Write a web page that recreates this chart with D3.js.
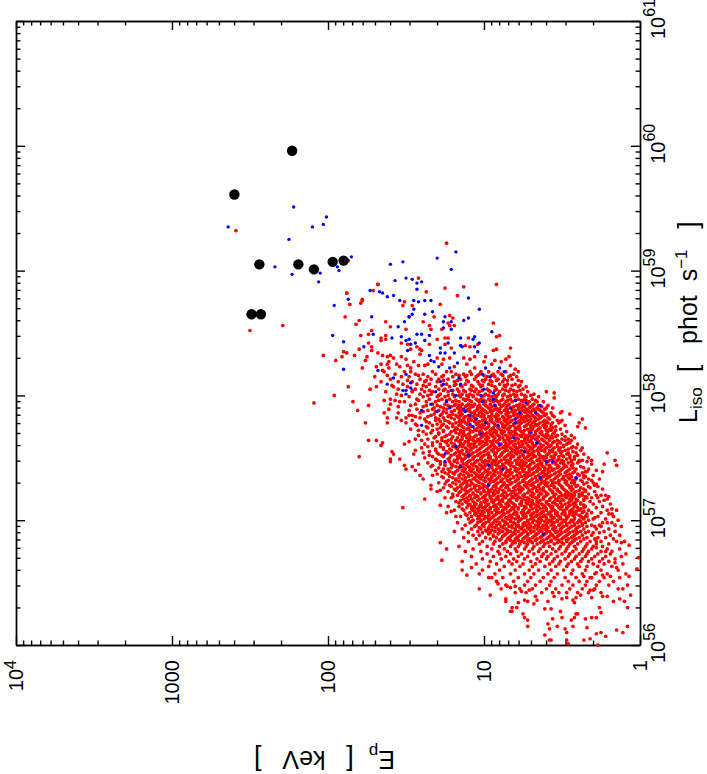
<!DOCTYPE html>
<html>
<head>
<meta charset="utf-8">
<script src="https://cdnjs.cloudflare.com/ajax/libs/d3/7.8.5/d3.min.js"></script>
<style>
html, body { margin: 0; padding: 0; background: #fff; }
svg { display: block; }
text { font-family: "Liberation Sans", Arial, sans-serif; fill: #000; white-space: pre; }
</style>
</head>
<body>
<script>
// values as [log10 Ep, log10 Liso]
var blackPoints = [[2.23,59.96],[2.60,59.61],[2.44,59.05],[2.19,59.05],[2.09,59.01],[1.97,59.07],[1.90,59.08],[2.49,58.65],[2.43,58.65]];

var bluePoints = [[2.22,59.51],[2.01,59.43],[2.03,59.37],[2.10,59.35],[2.64,59.35],[2.25,59.25],[1.85,59.11],[2.34,59.03],[1.94,59.03],[1.93,59.00],[2.23,58.97],[2.05,58.98],[2.06,58.91],[1.73,58.84],[1.67,58.83],[1.87,58.77],
[1.60,59.05],[1.52,59.07],[1.30,59.10],[1.18,59.15],[1.21,59.01],[1.57,58.92],[1.50,58.94],[1.46,58.93],[1.43,58.90],[1.40,58.91],[1.43,58.85],[1.65,58.82],[1.62,58.79],[1.58,58.80],[1.54,58.76],[1.45,58.76],[1.42,58.75],[1.38,58.76],[1.34,58.76],[1.96,58.72],[1.45,58.69],[1.46,58.65],[1.48,58.63],[1.51,58.59],[1.55,58.55],[1.38,58.65],[1.33,58.67],[1.72,58.63],[1.25,58.63],[1.26,58.59],[1.21,58.59],[1.26,58.54],[1.21,58.53],[1.13,58.60],[1.10,58.62],[1.03,58.69],[1.10,58.78],[1.71,58.49],[1.97,58.48],[1.90,58.43],[1.59,58.46],[1.53,58.47],[1.50,58.44],[1.48,58.45],[1.43,58.49],[1.40,58.49],[1.35,58.48],[1.47,58.41],[1.44,58.42],[1.38,58.44],[1.23,58.42],[1.15,58.46],[1.07,58.45],[1.06,58.47],[.95,58.51],[1.77,58.39],[1.49,58.36],[1.28,58.38],[1.15,58.40],[1.14,58.39],[1.06,58.39],[1.03,58.42],[1.28,58.34],[1.25,58.34],[1.19,58.34],[1.04,58.35],[1.35,58.32],[1.34,58.28],[1.32,58.27],[1.29,58.23],[1.17,58.26],[1.22,58.22],[1.90,58.21],[1.68,58.20],[1.50,58.17],[1.58,58.14],[1.62,58.09],[1.47,58.10],[1.28,58.11],[1.26,58.09],[1.16,58.14],[1.15,58.09],[.96,58.15],[1.01,58.17],[.99,58.22],[.90,58.22],[.87,58.19],[.94,58.02],[1.00,58.05],[1.02,58.00],[1.52,58.04],[1.50,58.04],[1.50,58.01],[1.31,58.03],[1.21,58.04],[1.18,58.00],[1.47,58.06],
[1.01,57.95],[.94,57.97],[.93,57.92],[1.34,57.93],[1.24,57.95],[1.22,57.90],[1.40,57.88],[1.30,57.87],[1.13,57.89],[1.12,57.87],[1.09,57.84],[1.05,57.81],[1.09,57.77],[1.07,57.75],[.99,57.78],[.91,57.76],[1.40,57.76],[1.02,57.69],[.90,57.61],[1.18,57.59],[1.25,57.53],[1.10,57.52],[1.25,57.47],[1.15,57.43],[.97,57.44],[.97,57.28],
[.80,57.96],[.73,57.94],[.64,57.92],[.83,57.90],[.77,57.86],[.67,57.86],[.80,57.81],[.80,57.78],[.81,57.66],[.70,57.70],[.66,57.62],[.74,57.55],[.60,57.47],[.56,57.47],[.88,57.41],[.64,57.34],[.41,57.34],[.62,56.89]];

// isolated red points
var redSparse = [[2.59,59.32],[2.29,58.56],[2.50,58.52],[2.09,57.94],[1.87,59.08],[1.88,58.82],[1.71,58.84],[1.68,58.89],[1.78,58.77],[1.24,59.22],[1.37,58.83],[1.42,58.94],[1.25,58.86],[1.13,58.87],[.92,58.89],[1.17,58.80],[1.28,58.73],[1.68,58.89],[1.88,58.82],[1.78,58.76],[1.79,58.74],[1.86,58.73],
[1.51,58.75],[1.52,58.72],[1.46,58.72],[1.89,58.63],[1.80,58.60],[1.82,58.57],[1.63,58.59],[1.60,58.55],[1.72,58.52],[1.50,58.53],[1.48,58.63],[1.39,58.59],[1.32,58.63],[1.35,58.56],[1.34,58.53],[1.22,58.64],[1.20,58.62],[1.23,58.58],[1.22,58.56],[1.27,58.53],[1.19,58.56],[.94,58.58],[.92,58.47],[.90,58.48],
[1.79,58.48],[1.74,58.49],[1.63,58.48],[1.66,58.46],[1.66,58.44],[1.63,58.45],[1.74,58.42],[1.72,58.39],[1.80,58.37],[1.90,58.35],[1.88,58.34],[1.91,58.31],[2.03,58.32],[1.95,58.28],[1.83,58.32],[1.75,58.31],[1.76,58.28],[1.78,58.22],[1.72,58.36],[1.68,58.34],[1.65,58.32],[1.62,58.31],[1.60,58.32],[1.53,58.42],[1.49,58.41],[1.47,58.37],[1.43,58.39],[1.41,58.37],[1.40,58.36],[1.41,58.33],[1.35,58.41],[1.30,58.45],[1.25,58.46],[1.23,58.46],[1.25,58.41],[1.21,58.38],[1.10,58.46],[1.12,58.40],[1.09,58.39],[1.04,58.41],[.94,58.36],[.92,58.37],[.83,58.38],[.99,58.31],[.84,58.31],[.86,58.29],[.89,58.27],
[1.87,58.07],[1.96,58.00],[1.73,58.05],[1.58,58.30],[1.53,58.31],[1.50,58.29],[1.45,58.27],[1.61,58.27],[1.66,58.25],[1.62,58.25],[1.69,58.23],[1.65,58.20],[1.61,58.22],[1.56,58.25],[1.54,58.23],[1.49,58.24],[1.42,58.24],[1.38,58.24],[1.36,58.25],[1.30,58.30],[1.26,58.29],[1.22,58.30],[1.13,58.30],[1.09,58.29],[1.06,58.31],[1.00,58.27],[.95,58.25],[1.47,58.22],[1.27,58.25],[1.19,58.23],[1.11,58.25],[1.06,58.22],[.93,58.28],[.83,58.24],[.80,58.21],[.78,58.19],
[1.84,57.95],[1.74,57.92],[1.81,57.88],[1.64,57.96],[1.60,57.93],[1.61,57.89],[1.64,57.86],[1.62,57.82],[1.62,57.78],[1.76,57.78],[1.56,57.82],[1.55,57.86],[1.53,57.80],[1.50,57.82],[1.50,57.78],[1.48,57.84],[1.47,57.92],[1.57,57.96],[1.54,57.95],[1.74,57.64],[1.69,57.64],[1.65,57.62],[1.66,57.60],[1.51,57.61],[1.44,57.65],[1.80,57.51],[1.59,57.55],[1.58,57.53],[1.60,57.49],[1.60,57.47],[1.54,57.49],[1.51,57.44],[1.50,57.41],[1.46,57.43],[1.44,57.40],[1.42,57.45],[1.44,57.56],[1.41,57.36],[1.38,57.17],[1.52,57.10],[1.39,57.33],[1.34,57.28],[1.34,57.25],[1.30,57.23],[1.28,57.24],[1.25,57.18],[1.28,57.12],[1.23,57.11],[1.24,57.06],[1.21,57.07],[1.18,57.03],
[.21,57.54],[.16,57.48],[.15,57.44],[.23,57.45],[.24,57.39],[.31,57.48],[.34,57.47],[.37,57.81],[.39,57.78],[.40,57.75],[.35,57.74],[.45,57.85],[.50,57.87],[.51,57.86],[.59,57.92],[.56,57.90],[.55,58.02],[.60,58.03],[.55,57.98],[.50,57.80],[.52,57.78],[.48,57.76],[.54,57.75],[.42,57.66],[.44,57.64],[.45,57.62],[.41,57.58],[.37,57.58],[.41,57.54],[.39,57.48],[.34,57.39],[.36,57.36],[.31,57.32],[.30,57.30],[.28,57.29],[.27,57.27],[.25,57.20],[.20,57.19],[.21,57.17],[.28,57.20],[.31,57.18],[.18,57.09],[.15,57.08],[.18,57.05],[.29,57.02],[.34,57.03],
[.72,56.15],[.59,56.17],[.58,56.13],[.53,56.15],[.48,56.13],[.47,56.10],[.43,56.15],[.34,56.14],[.28,56.09],[.25,56.10],[.22,56.07],[.15,56.12],[.11,56.10],[.08,56.15],[.61,56.08],[.58,56.04],[.57,56.04],[.47,56.04],[.46,56.01],[.36,56.04],[.32,56.05],[.27,56.00],
[.82,56.30],[.83,56.27],[.82,56.27],[.79,56.30],[.75,56.25],[.74,56.22],[.72,56.20],[.61,56.29],[.57,56.29],[.51,56.27],[.56,56.21],[.50,56.22],[.44,56.20],[.42,56.22],[.41,56.25],[.40,56.25],[.35,56.21],[.31,56.22],[.28,56.22],[.26,56.30],[.25,56.26],[.08,56.30],
[1.03,56.45],[.96,56.40],[.86,56.37],[.86,56.35],[.78,56.34],[.74,56.36],[.72,56.35],[.67,56.39],[.66,56.36],[.68,56.33],[.59,56.35],[.55,56.39],[.50,56.37],[.47,56.38],[.43,56.36],[.42,56.34],[.41,56.38],[.38,56.40],[.52,56.42],[.32,56.44],[.30,56.44],[.31,56.38],[.24,56.39],[.21,56.39],[.17,56.35],[.13,56.37],[.10,56.35],[.06,56.40],[.14,56.45],
[1.14,56.60],[1.11,56.56],[1.03,56.57],[.97,56.54],[.95,56.54],[.91,56.49],[.85,56.47],[.83,56.46],[.80,56.47],[.76,56.43],[.71,56.44],[1.08,56.62],[1.27,56.68],[1.24,56.77],[1.28,56.82],
[.01,56.70],[.02,56.61],[.07,56.80],[.12,56.82],[.07,56.55],[.08,56.48],[.16,56.66],[.15,56.62],[.18,56.75],[.22,56.75],[.28,56.78],[.21,56.98],[.16,56.96],[.17,57.03],[.25,56.95],[.28,56.83],[.19,56.55],[.24,56.56],[.28,56.58],[.32,56.54],[.36,56.55]];

// the dense part of the cloud: [log10 Liso, then the log10 Ep values along that row]
var redRows = [
[58.19,1.64,1.51,1.47,1.33,1.24,1.21,1.09,1.02,.97,.91,.86],
[58.17,1.57,1.44,1.39,1.31,1.18,1.13,1.08,1.03,.94,.89,.81],
[58.15,1.70,1.53,1.48,1.36,1.27,1.20,1.12,1.05,.98,.93,.84,.79],
[58.13,1.60,1.41,1.34,1.29,1.23,1.15,1.06,.99,.91,.87,.82],
[58.11,1.66,1.55,1.46,1.38,1.30,1.19,1.10,1.04,1.00,.95,.88,.76],
[58.09,1.52,1.43,1.35,1.24,1.18,1.12,1.03,.97,.90,.85,.80],
[58.07,1.69,1.58,1.49,1.37,1.31,1.22,1.14,1.07,1.02,.93,.86,.78,.73],
[58.05,1.55,1.44,1.40,1.29,1.25,1.17,1.09,1.05,.98,.92,.88,.83,.75],
[58.03,1.63,1.46,1.38,1.33,1.23,1.16,1.12,1.06,1.03,.96,.90,.84,.79,.72],
[58.01,1.56,1.41,1.34,1.28,1.20,1.14,1.09,1.04,.99,.91,.87,.81,.76,.68],
[57.99,1.48,1.39,1.30,1.25,1.19,1.15,1.10,1.07,1.01,.95,.92,.85,.80,.73,.65],
[57.97,1.60,1.43,1.35,1.27,1.22,1.13,1.11,1.05,1.02,.97,.93,.88,.83,.78,.74,.69],
[57.95,1.51,1.37,1.31,1.20,1.16,1.08,1.03,.99,.94,.91,.86,.82,.75,.71,.66,.62],
[57.93,1.44,1.33,1.25,1.18,1.14,1.10,1.06,1.00,.96,.90,.87,.84,.77,.72,.68],
[57.91,1.55,1.39,1.28,1.21,1.15,1.12,1.07,1.04,.98,.95,.89,.81,.78,.74,.70,.63],
[57.90,1.32,1.26,1.17,1.09,1.02,.97,.92,.86,.83,.76,.71,.66,.60],
[57.88,1.48,1.36,1.29,1.19,1.13,1.11,1.05,1.00,.94,.91,.87,.80,.75,.72,.69,.64],
[57.86,1.41,1.24,1.16,1.08,1.03,.98,.95,.89,.84,.81,.73,.70,.62,.57],
[57.85,1.32,1.27,1.20,1.14,1.06,1.01,.92,.86,.79,.76,.66,.60],
[57.83,1.44,1.36,1.23,1.17,1.12,1.07,1.02,.97,.93,.88,.83,.78,.74,.71,.68,.63,.55],
[57.81,1.38,1.29,1.19,1.10,1.05,.99,.95,.90,.85,.80,.75,.70,.65,.58],
[57.80,1.46,1.31,1.25,1.15,1.13,1.08,1.01,.96,.92,.87,.82,.77,.72,.67,.61,.53],
[57.78,1.35,1.22,1.18,1.12,1.04,.98,.94,.89,.84,.79,.76,.69,.64,.59,.56],
[57.76,1.43,1.33,1.27,1.16,1.09,1.03,1.00,.93,.86,.81,.73,.70,.66,.62],
[57.75,1.37,1.24,1.20,1.14,1.08,1.02,.97,.91,.88,.83,.78,.74,.68,.60,.57],
[57.73,1.47,1.30,1.17,1.11,1.06,.99,.95,.90,.85,.79,.72,.69,.65,.58,.51],
[57.71,1.39,1.26,1.21,1.13,1.07,1.03,.96,.92,.87,.82,.76,.71,.67,.63,.59,.47],
[57.70,1.34,1.29,1.18,1.15,1.09,1.01,.98,.94,.89,.84,.80,.75,.70,.64,.55],
[57.68,1.42,1.24,1.12,1.05,1.00,.95,.91,.86,.81,.77,.73,.68,.62,.59,.53,.44],
[57.66,1.32,1.27,1.17,1.11,1.07,1.02,.97,.93,.88,.83,.79,.74,.69,.66,.60,.56],
[57.65,1.36,1.21,1.14,1.09,1.04,.99,.90,.85,.78,.72,.67,.63,.58,.50,.46],
[57.63,1.48,1.30,1.25,1.16,1.12,1.05,1.01,.96,.92,.87,.82,.76,.71,.65,.61,.55,.52],
[57.61,1.38,1.28,1.19,1.13,1.08,1.03,.98,.94,.89,.84,.80,.75,.69,.64,.59,.53,.47,.40],
[57.60,1.33,1.23,1.15,1.10,1.06,1.00,.95,.90,.86,.81,.77,.72,.67,.62,.57,.49],
[57.58,1.40,1.26,1.18,1.12,1.07,1.02,.97,.92,.88,.83,.78,.74,.70,.65,.60,.55,.51,.44],
[57.56,1.31,1.21,1.14,1.09,1.04,.99,.95,.91,.85,.80,.76,.71,.66,.63,.58,.52,.48,.38],
[57.55,1.35,1.24,1.16,1.11,1.05,1.00,.94,.87,.82,.78,.73,.68,.61,.56,.50,.43],
[57.53,1.45,1.29,1.19,1.13,1.08,1.03,.98,.93,.89,.84,.79,.75,.70,.65,.59,.54,.47,.36],
[57.51,1.33,1.26,1.17,1.10,1.06,1.01,.96,.90,.86,.81,.77,.72,.67,.62,.57,.52,.49,.42],
[57.50,1.38,1.22,1.15,1.12,1.07,1.02,.97,.92,.87,.83,.78,.74,.69,.64,.60,.55,.45,.33],
[57.48,1.30,1.19,1.14,1.09,1.04,.99,.94,.89,.85,.80,.76,.71,.66,.61,.58,.53,.50,.44,.37],
[57.46,1.36,1.25,1.17,1.11,1.06,1.00,.95,.91,.86,.82,.77,.73,.68,.63,.56,.51,.46,.40],
[57.45,1.28,1.21,1.13,1.08,1.03,.98,.93,.88,.84,.79,.75,.70,.65,.60,.54,.49,.43,.31],
[57.43,1.34,1.18,1.15,1.10,1.05,1.01,.96,.90,.87,.81,.76,.72,.67,.62,.58,.52,.47,.38],
[57.41,1.26,1.23,1.12,1.07,1.02,.97,.92,.88,.83,.78,.74,.69,.64,.59,.55,.50,.45,.41,.33],
[57.40,1.31,1.17,1.14,1.09,1.04,.99,.94,.89,.85,.80,.75,.71,.66,.61,.56,.51,.46,.28],
[57.38,1.25,1.20,1.11,1.06,1.00,.96,.91,.86,.82,.77,.73,.68,.63,.59,.54,.48,.43,.37],
[57.36,1.33,1.16,1.13,1.08,1.03,.98,.93,.87,.84,.79,.74,.70,.65,.60,.57,.52,.47,.39,.30],
[57.35,1.27,1.22,1.10,1.05,1.01,.95,.90,.85,.81,.76,.72,.67,.62,.58,.53,.49,.44,.35],
[57.33,1.18,1.14,1.07,1.02,.97,.92,.88,.83,.78,.74,.69,.64,.60,.55,.50,.45,.41,.33,.26],
[57.31,1.24,1.16,1.11,1.04,.99,.94,.89,.84,.80,.75,.71,.66,.61,.56,.52,.47,.42,.37],
[57.30,1.29,1.20,1.13,1.08,1.03,.96,.91,.87,.82,.77,.73,.68,.63,.59,.54,.48,.44,.34],
[57.28,1.22,1.15,1.09,1.05,1.00,.93,.88,.85,.79,.74,.70,.65,.60,.57,.51,.46,.40,.29],
[57.26,1.26,1.17,1.12,1.06,1.01,.98,.92,.86,.81,.76,.72,.67,.62,.55,.50,.45,.38,.32],
[57.25,1.19,1.14,1.08,1.03,.95,.90,.84,.78,.75,.69,.64,.58,.53,.49,.43,.36,.24],
[57.23,1.23,1.15,1.10,1.04,1.00,.96,.91,.87,.82,.77,.71,.66,.61,.56,.52,.47,.41,.35,.29],
[57.21,1.20,1.12,1.07,1.02,.97,.93,.88,.83,.79,.74,.68,.63,.59,.54,.48,.44,.39,.33],
[57.20,1.17,1.13,1.09,1.05,.99,.94,.89,.85,.80,.75,.70,.65,.60,.55,.50,.46,.42,.37,.22],
[57.18,1.21,1.11,1.06,1.01,.96,.92,.86,.81,.77,.72,.67,.62,.57,.52,.47,.43,.34,.27],
[57.16,1.15,1.10,1.04,.98,.93,.90,.84,.79,.73,.69,.64,.58,.53,.49,.44,.40,.36,.23],
[57.15,1.18,1.12,1.07,1.00,.95,.88,.83,.76,.71,.66,.60,.55,.51,.45,.41,.32,.26],
[57.13,1.14,1.09,1.05,1.02,.97,.91,.86,.81,.77,.72,.68,.63,.59,.54,.48,.43,.38,.30,.19],
[57.11,1.16,1.08,1.03,.99,.94,.89,.85,.80,.74,.70,.65,.61,.56,.50,.46,.42,.35,.24],
[57.10,1.11,1.06,1.01,.96,.92,.87,.82,.78,.73,.67,.62,.57,.52,.47,.40,.36,.28],
[57.08,1.19,1.13,1.07,1.03,.98,.93,.88,.83,.75,.71,.66,.60,.55,.49,.44,.39,.33,.21],
[57.06,1.09,1.04,1.00,.95,.90,.85,.79,.76,.72,.68,.63,.58,.53,.48,.43,.37,.31,.25],
[57.05,1.12,1.06,1.02,.97,.92,.87,.81,.74,.69,.64,.59,.54,.50,.45,.41,.34,.20],
[57.03,1.15,1.08,1.03,.99,.94,.89,.84,.78,.73,.67,.62,.57,.52,.46,.38,.35,.27],
[57.01,1.10,1.04,1.00,.96,.91,.85,.80,.76,.70,.65,.60,.56,.51,.47,.42,.36,.30,.22],
[57.00,1.07,1.02,.97,.93,.88,.83,.77,.72,.68,.63,.58,.53,.49,.44,.39,.33,.14],
[56.98,1.17,1.09,1.04,.99,.94,.90,.86,.81,.74,.69,.64,.59,.55,.50,.45,.40,.35,.24,.18],
[56.96,1.12,1.05,1.01,.96,.92,.87,.82,.78,.73,.67,.62,.57,.52,.47,.42,.37,.31,.26],
[56.95,1.06,1.00,.95,.89,.84,.79,.75,.70,.65,.60,.55,.49,.44,.39,.34,.29,.12],
[56.93,1.14,1.08,1.02,.97,.91,.86,.80,.76,.71,.66,.61,.56,.51,.46,.41,.36,.28,.20],
[56.91,1.19,1.04,.98,.93,.88,.83,.78,.73,.68,.63,.58,.53,.48,.43,.38,.33,.23,.16],
[56.90,1.10,1.01,.96,.90,.85,.81,.75,.70,.65,.60,.54,.50,.45,.40,.35,.30,.26],
[56.88,1.07,1.03,.94,.87,.82,.77,.72,.67,.62,.56,.52,.47,.42,.37,.31,.19,.13],
[56.86,1.13,.99,.92,.84,.79,.74,.69,.64,.59,.55,.49,.44,.39,.34,.27,.22],
[56.85,1.05,.96,.89,.85,.80,.75,.71,.66,.60,.54,.50,.46,.41,.36,.29,.17],
[56.83,1.10,1.01,.93,.86,.81,.76,.70,.63,.57,.52,.47,.43,.38,.32,.25,.15,.10],
[56.81,1.03,.94,.88,.82,.77,.72,.66,.61,.55,.49,.45,.40,.34,.28,.20],
[56.79,1.16,.98,.90,.83,.78,.73,.68,.62,.58,.51,.46,.42,.35,.30,.24],
[56.77,1.07,.95,.87,.80,.74,.69,.64,.56,.52,.47,.41,.36,.31,.21,.13],
[56.75,1.12,1.02,.91,.85,.79,.71,.65,.60,.54,.48,.43,.37,.33,.25],
[56.73,.98,.90,.83,.76,.68,.62,.57,.50,.45,.39,.34,.27,.19,.09],
[56.71,1.08,.94,.86,.78,.72,.63,.59,.53,.46,.41,.35,.29,.22,.12],
[56.69,1.01,.89,.81,.74,.66,.60,.55,.48,.42,.37,.31,.24,.16],
[56.67,1.14,.96,.84,.79,.70,.64,.56,.51,.44,.38,.33,.26,.20],
[56.65,1.05,.92,.82,.75,.67,.58,.52,.46,.40,.30,.23,.11],
[56.63,.97,.87,.77,.69,.61,.54,.47,.39,.34,.27,.18],
[56.60,1.01,.90,.80,.71,.65,.57,.49,.43,.35,.25,.14],
[56.57,.93,.83,.74,.68,.59,.53,.44,.37,.29,.21,.09],
[56.54,.88,.78,.70,.62,.55,.48,.41,.31,.23,.13],
[56.51,.92,.81,.72,.64,.57,.46,.39,.34,.26,.17],
[56.48,.86,.74,.67,.58,.50,.43,.35,.28,.20],
[56.45,.89,.77,.69,.60,.54,.45,.37,.29,.11],
[56.42,.80,.73,.63,.56,.47,.40,.33,.25]
];

// more of the crowded core, between the rows above
var redCoreRows = [
[58.16,1.62,1.42,1.26,1.16,1.11,1.04,1.00,.95,.88,.83],
[58.12,1.49,1.37,1.26,1.17,1.11,1.01,.96,.92,.85,.78],
[58.08,1.59,1.39,1.27,1.19,1.15,1.08,1.01,.95,.87,.82,.77],
[58.04,1.46,1.35,1.26,1.20,1.13,1.08,1.01,.97,.93,.86,.81,.77],
[58.00,1.53,1.36,1.29,1.23,1.16,1.11,1.07,1.00,.97,.93,.88,.83,.79,.74,.70],
[57.96,1.42,1.29,1.24,1.18,1.12,1.09,1.04,1.00,.96,.92,.89,.85,.80,.76,.73,.67],
[57.92,1.37,1.30,1.23,1.19,1.16,1.11,1.08,1.03,.99,.93,.88,.85,.79,.75,.69,.65],
[57.89,1.43,1.33,1.24,1.16,1.14,1.10,1.04,1.01,.96,.93,.90,.85,.82,.78,.73,.68,.65,.61],
[57.87,1.39,1.31,1.26,1.21,1.15,1.09,1.06,1.02,.99,.96,.90,.85,.82,.77,.74,.71,.67,.63],
[57.84,1.46,1.34,1.28,1.22,1.18,1.15,1.10,1.04,1.00,.95,.91,.85,.81,.77,.72,.69,.65,.61,.56],
[57.82,1.41,1.31,1.26,1.21,1.16,1.13,1.09,1.06,1.00,.96,.92,.87,.84,.79,.76,.73,.67,.64,.59],
[57.79,1.37,1.28,1.23,1.16,1.14,1.10,1.06,1.03,.99,.95,.91,.86,.83,.78,.74,.71,.68,.62,.60,.51],
[57.77,1.44,1.30,1.26,1.20,1.15,1.11,1.05,1.01,.97,.93,.88,.85,.81,.77,.72,.67,.65,.61,.57],
[57.74,1.36,1.28,1.23,1.18,1.13,1.10,1.04,1.01,.98,.94,.91,.87,.84,.80,.77,.70,.64,.61,.56],
[57.72,1.42,1.33,1.26,1.19,1.15,1.09,1.05,1.02,.96,.93,.89,.84,.80,.77,.74,.70,.66,.60,.57,.54],
[57.69,1.37,1.29,1.22,1.16,1.13,1.10,1.03,.99,.96,.92,.88,.83,.79,.75,.71,.67,.63,.60,.56,.50],
[57.67,1.31,1.25,1.20,1.14,1.09,1.06,1.01,.98,.94,.90,.85,.81,.76,.72,.70,.65,.61,.57,.54,.48],
[57.64,1.40,1.27,1.23,1.18,1.15,1.10,1.07,1.03,.98,.94,.91,.87,.84,.80,.74,.70,.66,.62,.58,.53,.48],
[57.62,1.33,1.24,1.21,1.15,1.10,1.06,1.02,.99,.95,.91,.86,.83,.78,.73,.69,.66,.60,.56,.51,.46],
[57.59,1.36,1.28,1.20,1.16,1.14,1.09,1.05,1.01,.96,.93,.87,.85,.80,.76,.71,.68,.63,.58,.53,.49,.43],
[57.57,1.31,1.26,1.22,1.17,1.11,1.08,1.03,.98,.94,.90,.86,.82,.79,.73,.69,.64,.61,.56,.52,.46],
[57.54,1.39,1.30,1.23,1.18,1.15,1.10,1.07,1.02,.97,.92,.88,.83,.80,.77,.72,.69,.65,.58,.54,.51,.46],
[57.52,1.35,1.27,1.21,1.16,1.12,1.09,1.04,1.00,.97,.93,.89,.85,.82,.75,.71,.68,.64,.60,.55,.50,.45,.40],
[57.49,1.31,1.23,1.17,1.13,1.07,1.02,.96,.92,.87,.83,.78,.73,.70,.65,.62,.56,.52,.47,.42],
[57.47,1.28,1.22,1.19,1.14,1.10,1.05,1.01,.97,.93,.90,.84,.79,.75,.69,.64,.59,.54,.49,.44,.39],
[57.44,1.33,1.25,1.20,1.15,1.11,1.07,1.02,.99,.95,.92,.88,.83,.77,.74,.71,.66,.63,.58,.53,.48,.44],
[57.42,1.29,1.21,1.16,1.13,1.09,1.04,1.00,.95,.90,.86,.80,.76,.71,.68,.65,.61,.57,.53,.49,.43,.36],
[57.39,1.27,1.22,1.18,1.13,1.08,1.03,.98,.93,.89,.84,.79,.75,.71,.66,.62,.58,.52,.47,.42,.35],
[57.37,1.30,1.23,1.19,1.15,1.10,1.05,1.01,.97,.94,.89,.83,.77,.72,.69,.64,.61,.55,.51,.45,.40],
[57.34,1.26,1.20,1.16,1.12,1.06,1.03,.99,.95,.91,.86,.81,.78,.73,.67,.63,.59,.54,.49,.46,.41,.36],
[57.32,1.23,1.18,1.12,1.09,1.05,1.00,.96,.93,.89,.85,.79,.75,.70,.66,.63,.57,.52,.48,.43,.38],
[57.29,1.25,1.18,1.14,1.11,1.07,1.01,.97,.92,.87,.83,.78,.72,.69,.64,.61,.56,.52,.47,.42,.36],
[57.27,1.21,1.15,1.11,1.06,1.03,.99,.94,.89,.85,.80,.77,.73,.68,.65,.59,.55,.50,.44,.41,.33],
[57.24,1.18,1.12,1.09,1.05,1.00,.97,.93,.88,.84,.80,.76,.71,.66,.62,.57,.53,.48,.44,.39,.35],
[57.22,1.16,1.11,1.07,1.02,.98,.94,.91,.86,.81,.77,.72,.69,.64,.60,.56,.51,.46,.42,.37],
[57.19,1.20,1.14,1.09,1.04,1.00,.96,.91,.87,.82,.78,.74,.69,.65,.61,.55,.52,.48,.44,.39,.35],
[57.17,1.13,1.08,1.03,.99,.95,.91,.88,.83,.79,.75,.71,.66,.62,.58,.54,.50,.45,.41,.36],
[57.14,1.16,1.11,1.06,1.02,.99,.94,.90,.85,.82,.76,.73,.69,.65,.60,.56,.51,.46,.42,.38],
[57.12,1.10,1.06,1.02,.98,.93,.89,.84,.80,.76,.70,.66,.62,.58,.53,.50,.45,.41,.36],
[57.09,1.14,1.08,1.04,1.00,.96,.91,.86,.81,.78,.74,.69,.64,.60,.56,.51,.47,.43,.38],
[57.07,1.06,1.01,.97,.92,.88,.84,.80,.75,.71,.66,.62,.57,.54,.49,.45,.41,.36],
[57.04,1.11,1.05,1.01,.97,.93,.88,.83,.79,.75,.70,.66,.61,.57,.53,.48,.43,.39],
[57.02,1.03,.98,.95,.90,.86,.82,.78,.74,.69,.64,.60,.55,.51,.47,.42,.37],
[56.99,1.08,1.02,.97,.92,.87,.83,.78,.72,.66,.61,.57,.53,.48,.43,.38],
[56.97,1.00,.95,.90,.85,.80,.75,.71,.65,.60,.56,.51,.47,.42,.37],
[56.94,1.03,.97,.93,.88,.82,.77,.72,.68,.63,.59,.54,.50,.45,.40],
[56.92,.99,.95,.90,.85,.80,.74,.70,.64,.60,.55,.51,.47,.41],
[56.89,.97,.91,.86,.80,.76,.72,.66,.61,.57,.51,.46,.41],
[56.87,.94,.88,.83,.78,.73,.68,.63,.58,.53,.48,.43],
[56.84,.90,.83,.78,.72,.67,.62,.57,.52,.47,.42],
[56.82,.86,.80,.74,.69,.64,.59,.53,.50,.44]
];

// tick labels
var epMajor = [1e4, 1000, 100, 10, 1];
var lumExponents = [56, 57, 58, 59, 60, 61];
var minorSteps = [2, 3, 4, 5, 6, 7, 8, 9];

var width = 707;
var height = 774;
var svgTag = d3.select("body").append("svg")
	.attr("width", width)
	.attr("height", height);

var xScale = d3.scaleLog().domain([1e4, 1]).range([16, 640]);
var yScale = d3.scaleLog().domain([1e56, 1e61]).range([645, 21]);

var epMinor = [];
for (let m of epMajor.slice(1)) {
	for (let s of minorSteps) epMinor.push(m * s);
}
var lumMajor = lumExponents.map(e => Math.pow(10, e));
var lumMinor = [];
for (let m of lumMajor.slice(0, -1)) {
	for (let s of minorSteps) lumMinor.push(m * s);
}

// frame and ticks, all four sides, ticks pointing in
function drawAxis(axisFn, scale, values, size, tx, ty) {
	let g = svgTag.append("g")
		.attr("transform", "translate(" + tx + "," + ty + ")")
		.call(axisFn(scale).tickValues(values).tickSize(size).tickSizeOuter(0).tickFormat(""));
	g.selectAll("path, line").attr("stroke", "#000").attr("stroke-width", 1.4);
	return g;
}
drawAxis(d3.axisBottom, xScale, epMinor, -4.5, 0, 645);
drawAxis(d3.axisBottom, xScale, epMajor, -9, 0, 645);
drawAxis(d3.axisTop, xScale, epMinor, -4.5, 0, 21);
drawAxis(d3.axisTop, xScale, epMajor, -9, 0, 21);
drawAxis(d3.axisLeft, yScale, lumMinor, -4.5, 16, 0);
drawAxis(d3.axisLeft, yScale, lumMajor, -9, 16, 0);
drawAxis(d3.axisRight, yScale, lumMinor, -4.5, 640, 0);
drawAxis(d3.axisRight, yScale, lumMajor, -9, 640, 0);

// points
var redPoints = redSparse.slice();
redRows.concat(redCoreRows).forEach(row => row.slice(1).forEach(v => redPoints.push([v, row[0]])));

function drawPoints(points, color, r) {
	svgTag.append("g").selectAll("circle")
		.data(points)
		.enter().append("circle")
		.attr("cx", d => xScale(Math.pow(10, d[0])))
		.attr("cy", d => yScale(Math.pow(10, d[1])))
		.attr("r", r)
		.attr("fill", color);
}
drawPoints(redPoints, "#ff0000", 1.85);
drawPoints(bluePoints, "#0000ff", 1.7);
drawPoints(blackPoints, "#000000", 5.2);

// tick labels, turned a quarter to read upward
epMajor.forEach(v => {
	let t = svgTag.append("text")
		.attr("transform", "translate(" + (xScale(v) + 7) + ",660) rotate(-90)")
		.attr("text-anchor", "end")
		.attr("font-size", 20);
	if (v === 1e4) {
		t.append("tspan").text("10");
		t.append("tspan").attr("font-size", 16).attr("dy", -7).text("4");
	} else {
		t.text(v);
	}
});
lumExponents.forEach(e => {
	let t = svgTag.append("text")
		.attr("transform", "translate(665," + (yScale(Math.pow(10, e)) - 2) + ") rotate(-90)")
		.attr("text-anchor", "middle")
		.attr("font-size", 20);
	t.append("tspan").text("10");
	t.append("tspan").attr("font-size", 16).attr("dy", -10).text(e);
});

// axis titles
var xTitle = svgTag.append("text")
	.attr("transform", "translate(324.5,751) rotate(180)")
	.attr("text-anchor", "middle")
	.attr("font-size", 25);
xTitle.append("tspan").text("E");
xTitle.append("tspan").attr("font-size", 17).attr("dy", 5).text("p");
xTitle.append("tspan").attr("dy", -5).attr("font-size", 27).text("  [");
xTitle.append("tspan").text("   keV   ");
xTitle.append("tspan").attr("font-size", 27).text("]");

var yTitle = svgTag.append("text")
	.attr("transform", "translate(697,322) rotate(-90)")
	.attr("text-anchor", "middle")
	.attr("font-size", 25);
yTitle.append("tspan").text("L");
yTitle.append("tspan").attr("font-size", 17).attr("dy", 5).text("iso");
yTitle.append("tspan").attr("dy", -5).attr("font-size", 27).text("  [");
yTitle.append("tspan").text("   phot  s");
yTitle.append("tspan").attr("font-size", 17).attr("dy", -10).text("\u22121");
yTitle.append("tspan").attr("dy", 10).text("   ");
yTitle.append("tspan").attr("font-size", 27).text("]");
</script>
</body>
</html>
